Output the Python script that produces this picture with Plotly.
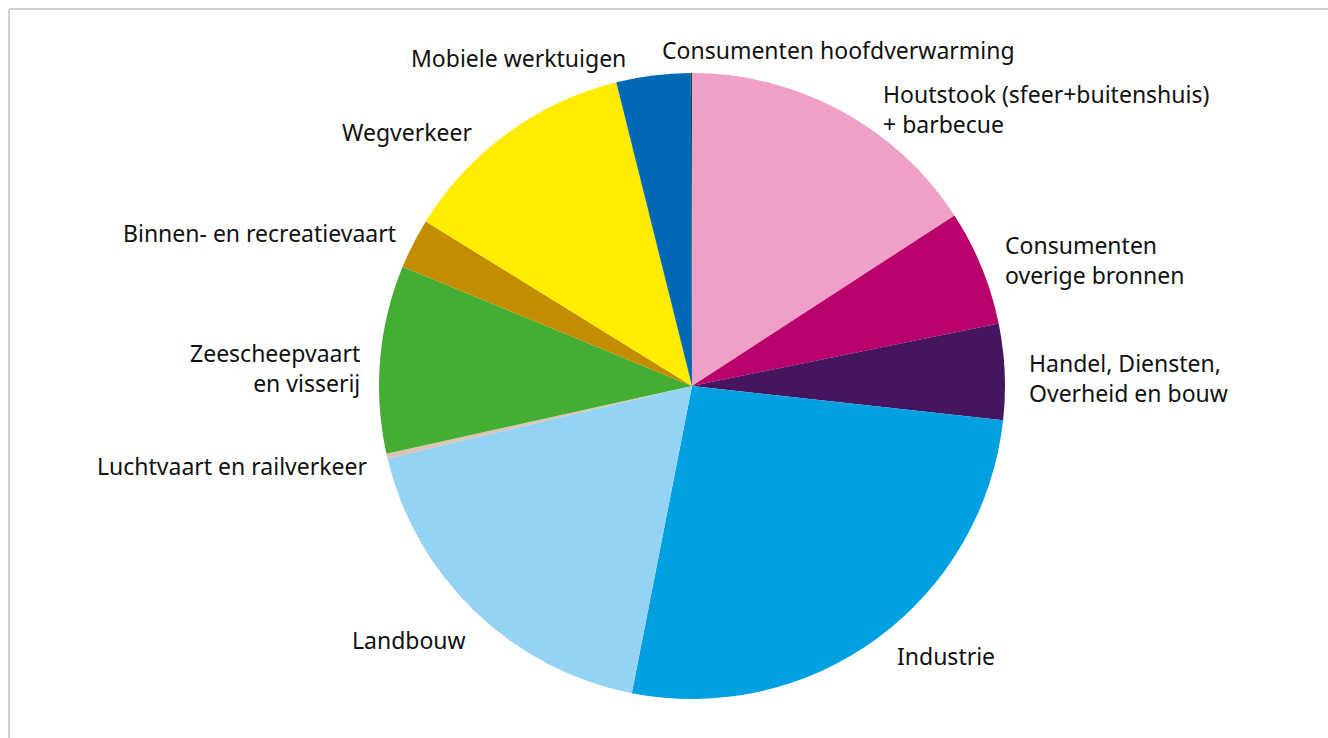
import plotly.graph_objects as go

categories = [
    "Houtstook (sfeer+buitenshuis)<br>+ barbecue",
    "Consumenten<br>overige bronnen",
    "Handel, Diensten,<br>Overheid en bouw",
    "Industrie",
    "Landbouw",
    "Luchtvaart en railverkeer",
    "Zeescheepvaart<br>en visserij",
    "Binnen- en recreatievaart",
    "Wegverkeer",
    "Mobiele werktuigen",
    "Consumenten hoofdverwarming",
]
values = [15.83, 5.97, 4.95, 26.33, 18.2, 0.25, 9.69, 2.59, 12.3, 3.83, 0.06]
colors = ["#f09fc6", "#b9006b", "#45165f", "#00a0e1", "#95d3f4", "#dcc3b4",
          "#45ad34", "#c48d00", "#ffec00", "#0068b4", "#1d4a36"]

# label placement (window pixel coords of anchor point, anchor side)
label_pos = [
    (881, 109, "left"),
    (1003, 260, "left"),
    (1027, 378, "left"),
    (895, 656, "left"),
    (468, 640, "right"),
    (369, 466, "right"),
    (362, 368, "right"),
    (398, 233, "right"),
    (474, 132, "right"),
    (628, 58, "right"),
    (660, 50, "left"),
]

W, H = 1328, 738
cx, cy, r = 692, 386, 313

fig = go.Figure(go.Pie(
    labels=categories,
    values=values,
    marker=dict(colors=colors, line=dict(width=0)),
    sort=False,
    direction="clockwise",
    rotation=0,
    textinfo="none",
    hoverinfo="label+percent",
    showlegend=False,
    domain=dict(x=[(cx - r) / W, (cx + r) / W], y=[1 - (cy + r) / H, 1 - (cy - r) / H]),
))

for lab, (px, py, side) in zip(categories, label_pos):
    fig.add_annotation(
        x=px / W, y=1 - py / H, xref="paper", yref="paper",
        text=lab, showarrow=False, xanchor=side, yanchor="middle",
        align=side, font=dict(family="Noto Sans", size=23, color="#111111"),
    )

# light frame (top and left)
fx, fy = 9, 9
fig.add_shape(type="line", xref="paper", yref="paper", x0=fx / W, x1=1, y0=1 - fy / H, y1=1 - fy / H,
              line=dict(color="#d2d2d2", width=2))
fig.add_shape(type="line", xref="paper", yref="paper", x0=fx / W, x1=fx / W, y0=0, y1=1 - fy / H,
              line=dict(color="#d2d2d2", width=2))

fig.update_layout(
    width=W, height=H,
    margin=dict(l=0, r=0, t=0, b=0),
    paper_bgcolor="white", plot_bgcolor="white",
)

fig.write_html(
    "out.html",
    config={"displayModeBar": False},
    post_script="document.body.style.margin='0';document.body.style.overflow='hidden';",
)
